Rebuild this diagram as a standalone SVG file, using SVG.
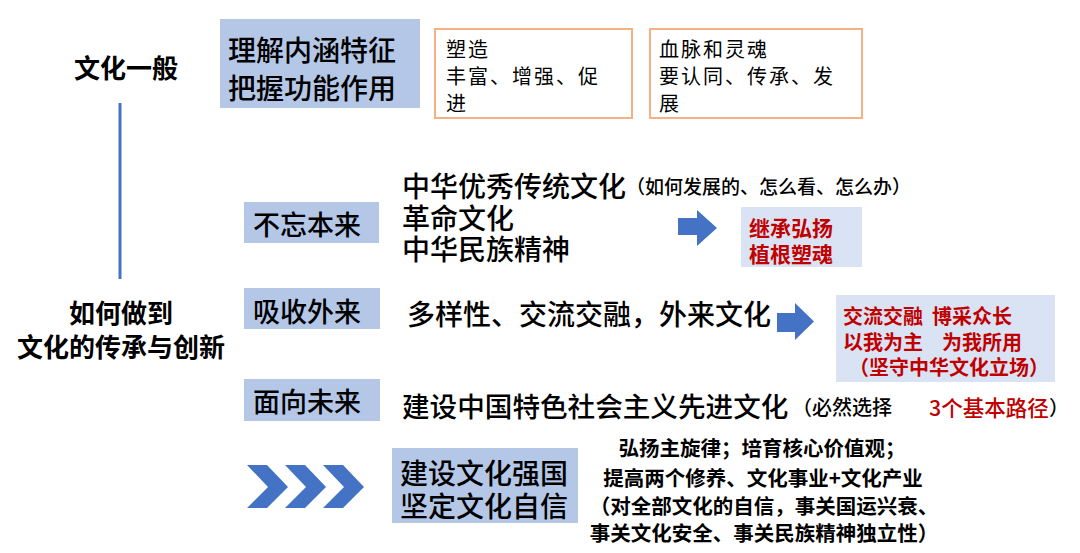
<svg xmlns="http://www.w3.org/2000/svg" width="1080" height="553" viewBox="0 0 1080 553">
<style>
text{font-family:"Noto Sans CJK SC","Liberation Sans",sans-serif;fill:#000;dominant-baseline:central;font-weight:500}
.box{fill:#B4C7E7}
.rbox{fill:#DAE3F3}
.obox{fill:#fff;stroke:#F4B183;stroke-width:2}
.big{font-size:28px}
.red{fill:#C00000;font-weight:bold}
.kai{font-size:20px;letter-spacing:2px;font-weight:normal}
.arrow{fill:#4472C4}
.title{font-size:26px;font-weight:bold}
.note{font-size:20.5px;font-weight:bold}
</style>
<rect width="1080" height="553" fill="#fff"/>
<g id="connectors">
<line x1="120" y1="103" x2="120" y2="279" stroke="#4472C4" stroke-width="3"/>
<path class="arrow" d="M678,218H697V210L717,228L697,246V235H678Z"/>
<path class="arrow" d="M777,313H795V303L814,321.5L795,340V332H777Z"/>
<g id="chevrons" class="arrow">
<path d="M247,465H267L288,487L267,508H247L268,487Z"/>
<path d="M285,465H305L326,487L305,508H285L306,487Z"/>
<path d="M323,465H343L364,487L343,508H323L344,487Z"/>
</g>
</g>
<g id="wenhua-yiban"><text class="title" x="126" y="66" text-anchor="middle">文化一般</text></g>
<g id="lijie">
<rect class="box" x="220" y="19" width="200" height="89"/>
<text x="228" y="49" font-size="28">理解内涵特征</text>
<text x="228" y="87" font-size="28">把握功能作用</text>
</g>
<g id="suzao">
<rect class="obox" x="435" y="29" width="197" height="89"/>
<text class="kai" x="446" y="48">塑造</text>
<text class="kai" x="446" y="75">丰富、增强、促</text>
<text class="kai" x="446" y="102">进</text>
</g>
<g id="xuemai">
<rect class="obox" x="650" y="29" width="212" height="89"/>
<text class="kai" x="659" y="48">血脉和灵魂</text>
<text class="kai" x="659" y="75">要认同、传承、发</text>
<text class="kai" x="659" y="102">展</text>
</g>
<g id="ruhe">
<text class="title" x="121" y="311" text-anchor="middle">如何做到</text>
<text class="title" x="121" y="345" text-anchor="middle">文化的传承与创新</text>
</g>
<g id="buwang">
<rect class="box" x="244" y="202" width="135" height="41"/>
<text x="253" y="223" font-size="27">不忘本来</text>
</g>
<g id="buwang-text">
<text class="big" x="402" y="185">中华优秀传统文化<tspan font-size="19">（如何发展的、怎么看、怎么办）</tspan></text>
<text class="big" x="402" y="217">革命文化</text>
<text class="big" x="402" y="248">中华民族精神</text>
</g>
<g id="jicheng">
<rect class="rbox" x="741" y="207" width="121" height="60"/>
<text class="red" x="749" y="227" font-size="21">继承弘扬</text>
<text class="red" x="749" y="253" font-size="21">植根塑魂</text>
</g>
<g id="xishou">
<rect class="box" x="244" y="288" width="136" height="41"/>
<text x="253" y="310" font-size="27">吸收外来</text>
</g>
<g id="xishou-text"><text class="big" x="407" y="313">多样性、交流交融，外来文化</text></g>
<g id="jiaoliu">
<rect class="rbox" x="836" y="295" width="219" height="87"/>
<text class="red" x="843" y="315" font-size="20">交流交融<tspan x="932">博采众长</tspan></text>
<text class="red" x="843" y="341" font-size="20">以我为主<tspan x="942">为我所用</tspan></text>
<text class="red" x="849" y="366" font-size="20">（坚守中华文化立场）</text>
</g>
<g id="mianxiang">
<rect class="box" x="244" y="379" width="136" height="42"/>
<text x="253" y="400" font-size="27">面向未来</text>
</g>
<g id="mianxiang-text">
<text x="402" y="405" font-size="27.6">建设中国特色社会主义先进文化</text>
<text x="792" y="406" font-size="20">（必然选择</text>
<text x="929" y="406" font-size="21.5" style="fill:#C00000">3个基本路径</text>
<text x="1049" y="406" font-size="20">）</text>
</g>
<g id="qiangguo">
<rect class="box" x="392" y="448" width="186" height="75"/>
<text x="400" y="472" font-size="28">建设文化强国</text>
<text x="400" y="505" font-size="28">坚定文化自信</text>
</g>
<g id="qiangguo-text">
<text class="note" x="762" y="447" text-anchor="middle">弘扬主旋律；培育核心价值观；</text>
<text class="note" x="763" y="477" text-anchor="middle">提高两个修养、文化事业+文化产业</text>
<text class="note" x="764" y="505" text-anchor="middle">（对全部文化的自信，事关国运兴衰、</text>
<text class="note" x="764" y="532" text-anchor="middle">事关文化安全、事关民族精神独立性）</text>
</g>
</svg>
